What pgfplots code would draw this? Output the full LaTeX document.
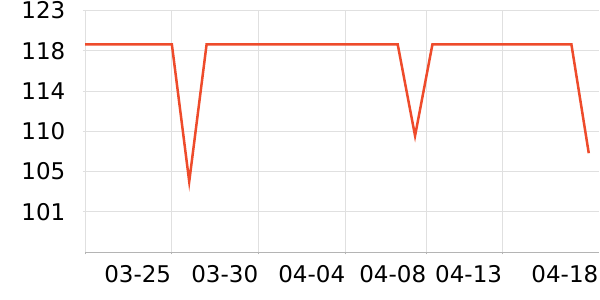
\documentclass[border=0pt]{standalone}
\usepackage{pgfplots}
\pgfplotsset{compat=1.18}
\usepackage{fontspec}
\setmainfont{DejaVu Sans}
\definecolor{lineorange}{HTML}{EE4B2B}
\definecolor{gridgray}{HTML}{E0E0E0}
\definecolor{axisgray}{HTML}{B4B4B4}
\begin{document}
\fontsize{23bp}{27bp}\selectfont
\begin{tikzpicture}
\path[use as bounding box] (0,0) rectangle (600bp,300bp);
\begin{axis}[
  at={(85bp,48bp)}, anchor=south west,
  scale only axis,
  width=513.5bp, height=241.5bp,
  xmin=0, xmax=29.56,
  ymin=96.4, ymax=122.8,
  axis x line*=bottom, axis y line*=left,
  x axis line style={axisgray, line width=0.8bp},
  y axis line style={gridgray, line width=0.8bp},
  xtick={0,4.97,9.98,14.99,19.65,24.02},
  xticklabels={,03-25,03-30,04-04,04-08,04-13},
  extra x ticks={29.56},
  extra x tick labels={04-18},
  extra x tick style={grid=none, tick style={draw=none}},
  ytick={100.8,105.2,109.6,114.0,118.4,122.8},
  yticklabels={101,105,110,114,118,123},
  xmajorgrids, ymajorgrids,
  major grid style={gridgray, line width=0.8bp},
  tick align=outside,
  major tick length=2.5bp,
  x tick style={axisgray, line width=0.8bp},
  y tick style={gridgray, line width=0.8bp},
  /pgf/number format/assume math mode=true,
  tick label style={font=\fontsize{23bp}{27bp}\selectfont, text=black, inner sep=0pt},
  x tick label style={anchor=north east, yshift=-11bp, xshift=0bp},
  y tick label style={anchor=east, xshift=-17bp},
  clip=false,
]
\addplot[lineorange, line width=2.5bp, mark=none] coordinates {
(0,119.1) (1,119.1) (2,119.1) (3,119.1) (4,119.1) (5,119.1)
(6,104.1) (7,119.1) (8,119.1) (9,119.1) (10,119.1) (11,119.1)
(12,119.1) (13,119.1) (14,119.1) (15,119.1) (16,119.1) (17,119.1)
(18,119.1) (19,109.1) (20,119.1) (21,119.1) (22,119.1) (23,119.1)
(24,119.1) (25,119.1) (26,119.1) (27,119.1) (28,119.1) (29,107.2)
};
\end{axis}
\end{tikzpicture}
\end{document}
